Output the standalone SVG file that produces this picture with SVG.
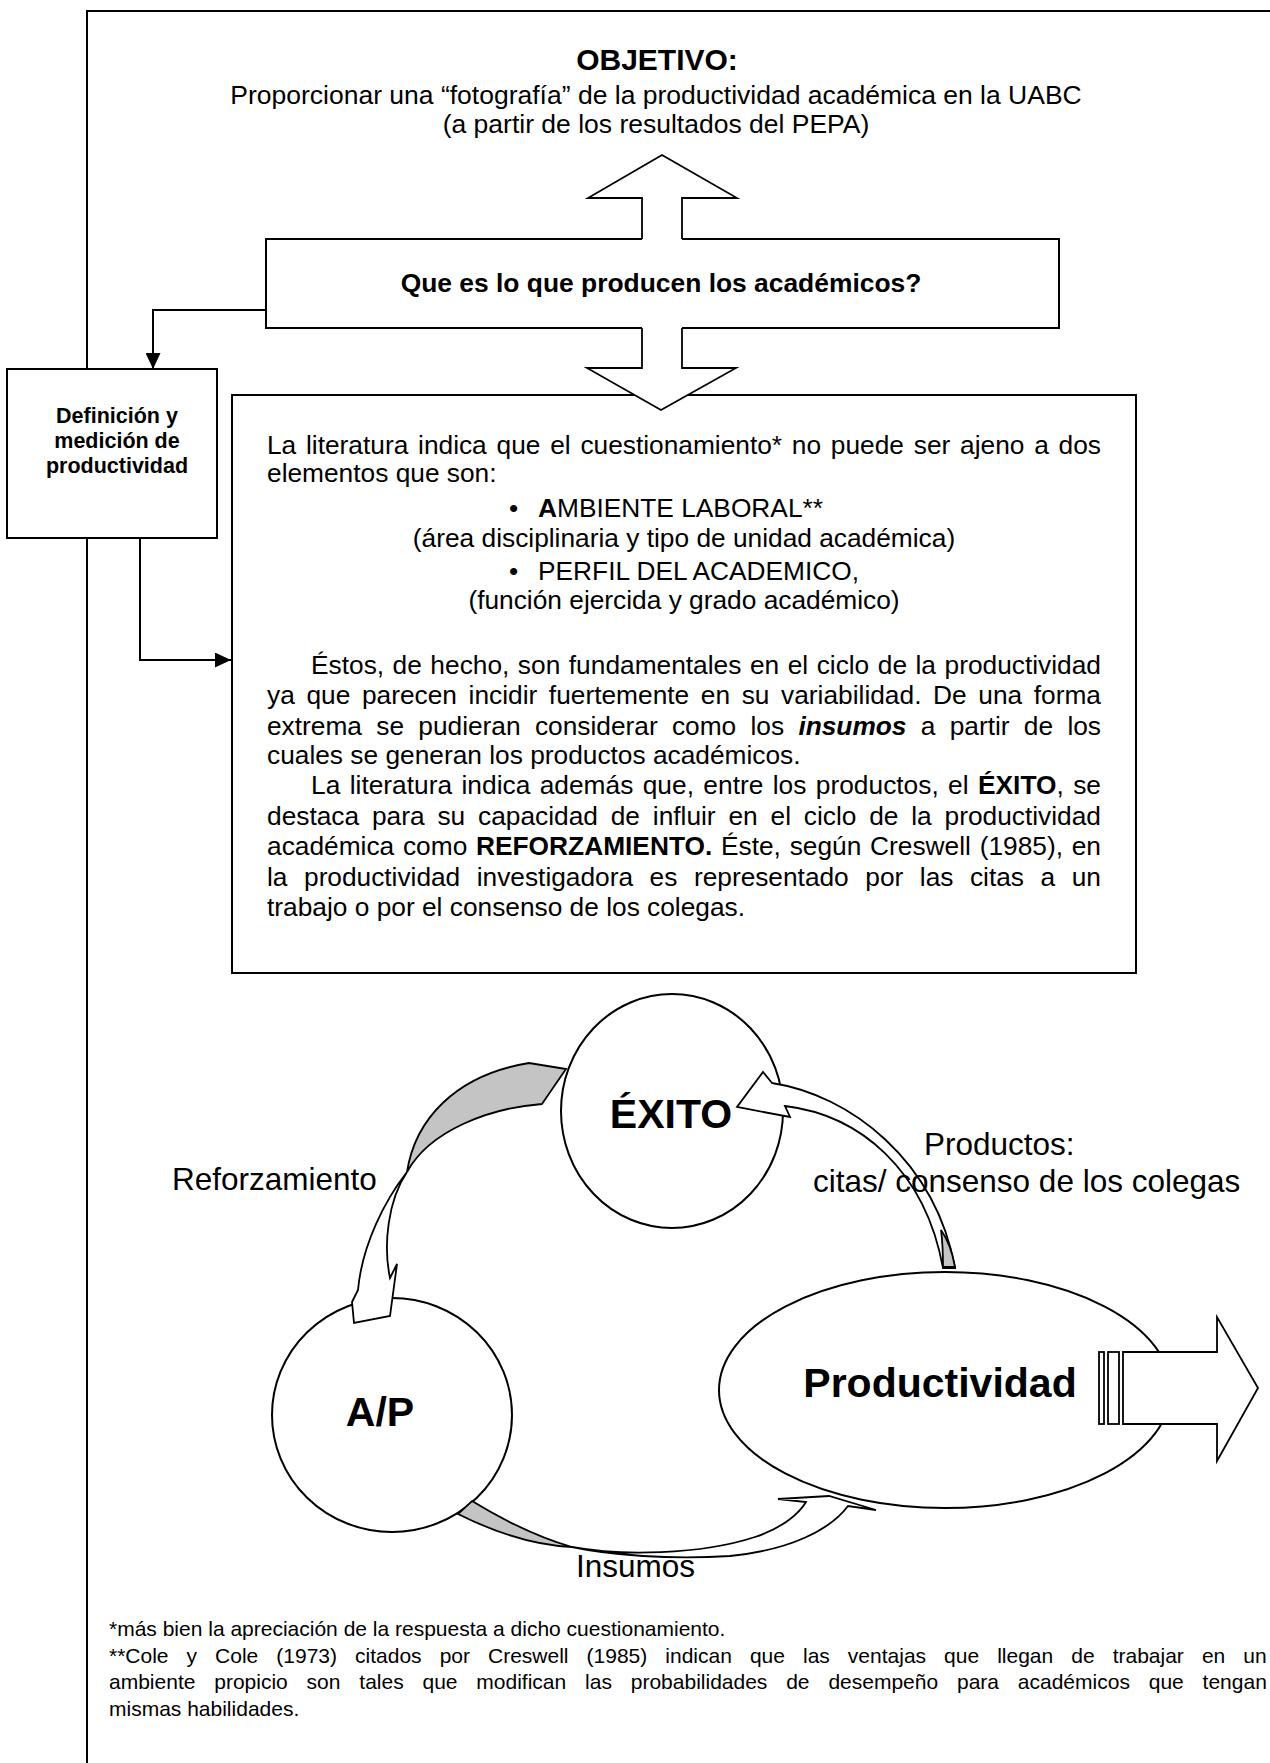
<svg xmlns="http://www.w3.org/2000/svg" width="1270" height="1763" viewBox="0 0 1270 1763">
<style>
.ln{stroke:#000;stroke-width:2;fill:none}
.bx{fill:#fff;stroke:#000;stroke-width:2}
.sh{fill:#fff;stroke:#000;stroke-width:1.8;stroke-linejoin:miter}
.gr{fill:#c4c4c4;stroke:#000;stroke-width:1.8}
.t{font-family:"Liberation Sans",Arial,sans-serif;fill:#000}
.b{font-size:26.3px}
.f{font-size:21px}
.lb{font-size:31.5px}
.big{font-size:41px;font-weight:bold}
</style>
<defs>
<marker id="ah" viewBox="0 0 16 15" refX="16" refY="7.5" markerWidth="16" markerHeight="15" orient="auto" markerUnits="userSpaceOnUse">
<path d="M0,0 L16,7.5 L0,15 Z" fill="#000"/>
</marker>
</defs>
<rect width="1270" height="1763" fill="#fff"/>

<g id="frame">
<path class="ln" d="M87,369 L87,11 L1270,11 M87,538 L87,1763"/>
</g>

<g id="objetivo">
<text class="t" x="657" y="70" text-anchor="middle" font-size="30" font-weight="bold">OBJETIVO:</text>
<text class="t" x="656" y="104" text-anchor="middle" font-size="26.5">Proporcionar una “fotografía” de la productividad académica en la UABC</text>
<text class="t" x="656" y="133" text-anchor="middle" font-size="26.5">(a partir de los resultados del PEPA)</text>
</g>

<g id="pregunta">
<path class="ln" d="M642,239 L266,239 L266,328 L642,328 M682,328 L1059,328 L1059,239 L682,239"/>
<path class="sh" d="M642,239 L642,198 L588,198 L662,155 L737,198 L682,198 L682,239"/>
<text class="t" x="661" y="292" text-anchor="middle" font-size="26.4" font-weight="bold">Que es lo que producen los académicos?</text>
</g>

<g id="definicion">
<rect class="bx" x="7" y="369" width="210" height="169"/>
<text class="t" x="117" y="423" text-anchor="middle" font-size="21.5" font-weight="bold">Definición y</text>
<text class="t" x="117" y="448" text-anchor="middle" font-size="21.5" font-weight="bold">medición de</text>
<text class="t" x="117" y="473" text-anchor="middle" font-size="21.5" font-weight="bold">productividad</text>
</g>

<g id="literatura">
<rect class="bx" x="232" y="395" width="904" height="578"/>
<text class="t b" x="267" y="454" word-spacing="2.5" textLength="834">La literatura indica que el cuestionamiento* no puede ser ajeno a dos</text>
<text class="t b" x="267" y="482">elementos que son:</text>
<text class="t b" x="509" y="517">•</text>
<text class="t b" x="538" y="517"><tspan font-weight="bold">A</tspan>MBIENTE LABORAL**</text>
<text class="t b" x="684" y="547" text-anchor="middle">(área disciplinaria y tipo de unidad académica)</text>
<text class="t b" x="509" y="580">•</text>
<text class="t b" x="538" y="580">PERFIL DEL ACADEMICO,</text>
<text class="t b" x="684" y="609" text-anchor="middle">(función ejercida y grado académico)</text>
<text class="t b" x="311" y="674" word-spacing="1.2" textLength="790">Éstos, de hecho, son fundamentales en el ciclo de la productividad</text>
<text class="t b" x="267" y="704" word-spacing="4.3" textLength="834">ya que parecen incidir fuertemente en su variabilidad. De una forma</text>
<text class="t b" x="267" y="735" word-spacing="7" textLength="834">extrema se pudieran considerar como los <tspan font-weight="bold" font-style="italic">insumos</tspan> a partir de los</text>
<text class="t b" x="267" y="764">cuales se generan los productos académicos.</text>
<text class="t b" x="311" y="794" word-spacing="2.1" textLength="790">La literatura indica además que, entre los productos, el <tspan font-weight="bold">ÉXITO</tspan>, se</text>
<text class="t b" x="267" y="825" word-spacing="5.5" textLength="834">destaca para su capacidad de influir en el ciclo de la productividad</text>
<text class="t b" x="267" y="855" word-spacing="1.4" textLength="834">académica como <tspan font-weight="bold">REFORZAMIENTO.</tspan> Éste, según Creswell (1985), en</text>
<text class="t b" x="267" y="886" word-spacing="9.3" textLength="834">la productividad investigadora es representado por las citas a un</text>
<text class="t b" x="267" y="916">trabajo o por el consenso de los colegas.</text>
</g>

<g id="flecha-abajo">
<path class="sh" d="M642,328 L642,368 L587,368 L661,410 L736,368 L682,368 L682,328"/>
</g>

<g id="connectors">
<path class="ln" d="M266,310 L153,310 L153,369" marker-end="url(#ah)"/>
<path class="ln" d="M140,538 L140,660 L231,660" marker-end="url(#ah)"/>
</g>

<g id="exito">
<ellipse class="bx" cx="672" cy="1111" rx="111" ry="117"/>
<text class="t big" x="671" y="1128" text-anchor="middle">ÉXITO</text>
</g>

<g id="ap">
<ellipse class="bx" cx="392" cy="1415" rx="120" ry="117"/>
<text class="t big" x="380" y="1426" text-anchor="middle">A/P</text>
</g>

<g id="productividad">
<ellipse class="bx" cx="945" cy="1390" rx="226" ry="118"/>
<text class="t big" x="940" y="1397" text-anchor="middle">Productividad</text>
<rect class="sh" x="1099" y="1352" width="5" height="72"/>
<rect class="sh" x="1108" y="1352" width="11" height="72"/>
<path class="sh" d="M1123,1352 L1217,1352 L1217,1317 L1258,1388 L1217,1461 L1217,1424 L1123,1424 Z"/>
</g>

<g id="flechas-ciclo">
<path class="gr" d="M407,1172 C415,1120 455,1075 529,1063 L566,1069 L542,1104 C490,1108 430,1130 407,1172 Z"/>
<path class="sh" d="M407,1172 C385,1200 362,1245 358,1290 L352,1302 L354,1323 L390,1316 L397,1264 L390,1278 C383,1245 388,1200 407,1172 Z"/>
<path class="sh" d="M772,1083 C850,1095 935,1160 955,1268 L943,1268 C925,1170 860,1115 785,1106 L790,1117 L737,1107 L763,1072 Z"/>
<path class="gr" d="M943,1267 L955,1267 C952,1250 948,1240 941,1230 C943,1245 943,1255 943,1267 Z"/>
<path class="gr" d="M572,1547 C530,1535 495,1515 472,1501 L458,1514 C490,1530 530,1545 572,1547 Z"/>
<path class="sh" d="M572,1547 C620,1556 700,1555 755,1537 C785,1527 800,1512 806,1502 L778,1499 L829,1496 L876,1510 L848,1506 C830,1530 790,1550 730,1556 C670,1560 610,1555 572,1547 Z"/>
</g>

<g id="etiquetas">
<text class="t lb" x="172" y="1190">Reforzamiento</text>
<text class="t lb" x="924" y="1155">Productos:</text>
<text class="t lb" x="813" y="1192">citas/ consenso de los colegas</text>
<text class="t lb" x="576" y="1577">Insumos</text>
</g>

<g id="notas">
<text class="t f" x="109" y="1636">*más bien la apreciación de la respuesta a dicho cuestionamiento.</text>
<text class="t f" x="109" y="1663" word-spacing="12.2">**Cole y Cole (1973) citados por Creswell (1985) indican que las ventajas que llegan de trabajar en un</text>
<text class="t f" x="109" y="1689" word-spacing="13">ambiente propicio son tales que modifican las probabilidades de desempeño para académicos que tengan</text>
<text class="t f" x="109" y="1716">mismas habilidades.</text>
</g>
</svg>
